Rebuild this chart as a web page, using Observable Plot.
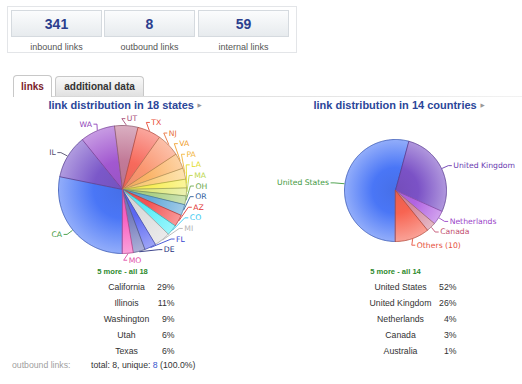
<!DOCTYPE html>
<html><head><meta charset="utf-8">
<script src="https://cdn.jsdelivr.net/npm/d3@7"></script>
<script src="https://cdn.jsdelivr.net/npm/@observablehq/plot@0.6"></script>
<style>
html,body{margin:0;padding:0;background:#fff;}
#page{position:relative;width:522px;height:384px;overflow:hidden;font-family:"Liberation Sans",Arial,sans-serif;}
#stats{position:absolute;left:7px;top:6px;width:288px;height:45px;border:1px solid #e3e5e8;background:#fff;}
.box{position:absolute;top:3px;width:89px;height:25px;border:1px solid #d5dadf;background:linear-gradient(#fbfcfd,#e7ebee);text-align:center;font-weight:bold;font-size:14px;line-height:26px;color:#2b3e8e;}
.slbl{position:absolute;top:35px;width:91px;text-align:center;font-size:9px;line-height:11px;color:#555;}
.tab{position:absolute;box-sizing:border-box;border:1px solid #c8c8c8;border-bottom:none;border-radius:4px 4px 0 0;text-align:center;font-weight:bold;font-size:10px;z-index:2;}
#tabline{position:absolute;left:13px;top:96px;width:509px;height:1px;background:linear-gradient(90deg,#d4d4d4,#e8e8e8 70%,#f2f2f2);}
.foot{position:absolute;top:359px;font-size:8.7px;line-height:12px;}
#plotwrap{position:absolute;left:0;top:0;z-index:3;pointer-events:none;}
</style></head>
<body><div id="page"></div>
<script>
// ---------- data ----------
const statValues = [341, 8, 59];
const statLabels = ["inbound links", "outbound links", "internal links"];
const tabLabels = ["links", "additional data"];
const chartTitles = ["link distribution in 18 states", "link distribution in 14 countries"];
const moreLinks = ["5 more - all 18", "5 more - all 14"];

const stateCodes  = ["CA","IL","WA","UT","TX","NJ","VA","PA","LA","MA","OH","OR","AZ","CO","MI","FL","DE","MO"];
const stateShares = [28.2,11,8.8,5.9,5.9,5.9,3.9,2.8,2.2,2.0,2.2,2.8,3.0,2.7,4.1,2.9,3.0,2.7];

const countryNames  = ["United States","United Kingdom","Netherlands","Canada","Others (10)"];
const countryShares = [54.2,27.5,4.5,3.0,10.8];

const topStates     = ["California","Illinois","Washington","Utah","Texas"];
const topStatePct   = ["29%","11%","9%","6%","6%"];
const topCountries  = ["United States","United Kingdom","Netherlands","Canada","Australia"];
const topCountryPct = ["52%","26%","4%","3%","1%"];

const outboundLabel = "outbound links:";
const outboundTotal = 8, outboundUnique = 8, outboundPct = "100.0%";

// ---------- styles ----------
const stateFill  = ["#4a76f6","#7b58c9","#a258d0","#c27a98","#f76a5c","#fa9670","#fbb468","#fcce7c","#f8ee58","#dfe87e","#acd084","#62a8d8","#f45454","#58eef8","#dcdcdc","#5c68f2","#747cbc","#f862c2"];
const stateLabel = ["#3f9a3f","#54506e","#8e42b8","#a8507a","#e84a34","#e8743c","#f0a030","#f2b63c","#e2dc28","#bcd64c","#6aa84c","#2c609c","#e03434","#34c8f0","#b4b4b4","#3446d0","#28307e","#e04ca6"];
const countryFill  = ["#4a76f6","#7b52c6","#b264e2","#d4889e","#f76452"];
const countryLabel = ["#3f9a3f","#6a3ab0","#9a44c8","#c25070","#e6503c"];

// ---------- html header ----------
const page = document.getElementById("page");
const stats = document.createElement("div"); stats.id = "stats"; page.appendChild(stats);
const boxLeft = [3, 96, 190];
statValues.forEach((v, i) => {
  const b = document.createElement("div"); b.className = "box"; b.style.left = boxLeft[i] + "px"; b.textContent = v; stats.appendChild(b);
  const l = document.createElement("div"); l.className = "slbl"; l.style.left = boxLeft[i] + "px"; l.textContent = statLabels[i]; stats.appendChild(l);
});
const tabStyle = [
  {left:13, top:75, width:39, height:22, bg:"#fff", color:"#7b1d2b"},
  {left:55, top:76, width:89, height:20, bg:"linear-gradient(#f9f9f9,#e1e1e1)", color:"#333"}
];
tabLabels.forEach((t, i) => {
  const s = tabStyle[i], d = document.createElement("div");
  d.className = "tab"; d.textContent = t;
  Object.assign(d.style, {left:s.left+"px", top:s.top+"px", width:s.width+"px", height:s.height+"px", lineHeight:(s.height-1)+"px", background:s.bg, color:s.color});
  page.appendChild(d);
});
const tl = document.createElement("div"); tl.id = "tabline"; page.appendChild(tl);
const f1 = document.createElement("div"); f1.className = "foot"; f1.style.left = "12px"; f1.style.color = "#a0a0a0"; f1.textContent = outboundLabel; page.appendChild(f1);
const f2 = document.createElement("div"); f2.className = "foot"; f2.style.left = "91px"; f2.style.color = "#333";
f2.innerHTML = `total: ${outboundTotal}, unique: <span style="color:#3355cc">${outboundUnique}</span> (${outboundPct})`;
page.appendChild(f2);

// ---------- pies ----------
const W = 522, H = 384;
const pL = {cx:122, cy:189, r:64, rxR:73, rxL:78, ry:71, key:"s"};
const pR = {cx:395, cy:190, r:51, rxR:64, rxL:67, ry:58, key:"c"};
const pieGen = d3.pie().sort(null).value(d => d).startAngle(Math.PI).endAngle(3 * Math.PI);
const pieStates = pieGen(stateShares);
const pieCountries = pieGen(countryShares);

function polys(pie, P, fills) {
  const out = [];
  pie.forEach((s, i) => {
    const k = P.key + i, fill = `url(#g${k})`, stroke = d3.color(fills[i]).darker(0.9).formatHex();
    out.push({k, x:P.cx, y:P.cy, fill, stroke});
    const n = Math.max(2, Math.ceil((s.endAngle - s.startAngle) / (Math.PI / 180)));
    for (let j = 0; j <= n; j++) {
      const a = s.startAngle + (s.endAngle - s.startAngle) * j / n;
      out.push({k, x:P.cx + P.r * Math.sin(a), y:P.cy - P.r * Math.cos(a), fill, stroke});
    }
  });
  return out;
}

function labels(pie, P, names, colors) {
  const L = pie.map((s, i) => {
    const a = (s.startAngle + s.endAngle) / 2, sn = Math.sin(a), cs = Math.cos(a);
    const right = sn >= 0;
    return {i, name:names[i], color:colors[i], right, a,
      ex:P.cx + (P.r + 0.5) * sn, ey:P.cy - (P.r + 0.5) * cs,
      x:P.cx + (right ? P.rxR : P.rxL) * sn, y:P.cy - P.ry * cs};
  });
  const gap = 10.6;
  for (const side of [true, false]) {
    const S = L.filter(d => d.right === side).sort((p, q) => p.y - q.y);
    for (let j = S.length - 2; j >= 0; j--) {
      const hi = S[j], lo = S[j + 1];
      if (Math.abs(hi.x - lo.x) < 16 && hi.y > lo.y - gap) {
        hi.y = lo.y - gap;
        const rx = side ? P.rxR : P.rxL, dy = hi.y - P.cy;
        if (Math.abs(dy) < rx) hi.x = P.cx + (side ? 1 : -1) * Math.sqrt(rx * rx - dy * dy);
      }
    }
  }
  return L;
}

const sliceData = [...polys(pieStates, pL, stateFill), ...polys(pieCountries, pR, countryFill)];
const labs = [...labels(pieStates, pL, stateCodes, stateLabel), ...labels(pieCountries, pR, countryNames, countryLabel)];
const leaders = labs.flatMap((d, i) => {
  const s = d.right ? 1 : -1;
  return [
    {k:i, x:d.ex, y:d.ey, c:d.color},
    {k:i, x:d.x - s * 5, y:d.y, c:d.color},
    {k:i, x:d.x - s * 1.5, y:d.y, c:d.color}
  ];
});

const rows = [
  ...topStates.map((n, i) => ({n, p:topStatePct[i], i, cx:126, px:174})),
  ...topCountries.map((n, i) => ({n, p:topCountryPct[i], i, cx:400, px:456}))
];
const titleData = chartTitles.map((t, i) => ({t, x:[48, 313][i], tx:[199, 482][i]}));
const moreData = moreLinks.map((t, i) => ({t, x:[122, 395][i]}));

const chart = Plot.plot({
  width: W, height: H, margin: 0,
  x: {domain:[0, W], range:[0, W], axis:null},
  y: {domain:[0, H], range:[0, H], axis:null},
  color: {type:"identity"},
  style: {background:"transparent", fontFamily:"'Liberation Sans', Arial, sans-serif"},
  marks: [
    Plot.line(sliceData, {x:"x", y:"y", z:"k", fill:"fill", stroke:"stroke", strokeWidth:0.8, curve:"linear-closed", strokeLinejoin:"round"}),
    Plot.line(leaders, {x:"x", y:"y", z:"k", stroke:"c", strokeWidth:0.9, strokeLinecap:"butt"}),
    Plot.text(labs.filter(d => d.right), {x:"x", y:"y", text:"name", fill:"color", textAnchor:"start", fontSize:7.7, fontFamily:"DejaVu Sans"}),
    Plot.text(labs.filter(d => !d.right), {x:"x", y:"y", text:"name", fill:"color", textAnchor:"end", fontSize:7.7, fontFamily:"DejaVu Sans"}),
    Plot.text(titleData, {x:"x", y:() => 105, text:"t", textAnchor:"start", fontSize:11, fontWeight:"bold", fill:"#2b4699"}),
    Plot.text(titleData, {x:"tx", y:() => 104.5, text:() => "▶", fontSize:5.5, fill:"#999", fontFamily:"DejaVu Sans"}),
    Plot.text(moreData, {x:"x", y:() => 271.5, text:"t", fontSize:7.6, fontWeight:"bold", fill:"#2e8b2e"}),
    Plot.text(rows, {x:"cx", y:d => 287 + 16 * d.i, text:"n", fontSize:8.7, fill:"#333"}),
    Plot.text(rows, {x:"px", y:d => 287 + 16 * d.i, text:"p", textAnchor:"end", fontSize:8.7, fill:"#333"})
  ]
});

// radial gradients for the slices
const ns = "http://www.w3.org/2000/svg";
const defs = document.createElementNS(ns, "defs");
function addGrad(id, P, color) {
  const g = document.createElementNS(ns, "radialGradient");
  g.setAttribute("id", id); g.setAttribute("gradientUnits", "userSpaceOnUse");
  g.setAttribute("cx", P.cx); g.setAttribute("cy", P.cy); g.setAttribute("r", P.r);
  [[0, d3.interpolateRgb(color, "#000")(0.06)], [0.45, color], [1, d3.interpolateRgb(color, "#fff")(0.4)]].forEach(([o, c]) => {
    const st = document.createElementNS(ns, "stop");
    st.setAttribute("offset", o); st.setAttribute("stop-color", d3.color(c).formatHex());
    g.appendChild(st);
  });
  defs.appendChild(g);
}
stateFill.forEach((c, i) => addGrad("g" + pL.key + i, pL, c));
countryFill.forEach((c, i) => addGrad("g" + pR.key + i, pR, c));
chart.insertBefore(defs, chart.firstChild);

const wrap = document.createElement("div"); wrap.id = "plotwrap"; wrap.appendChild(chart); page.appendChild(wrap);
</script>
</body></html>
